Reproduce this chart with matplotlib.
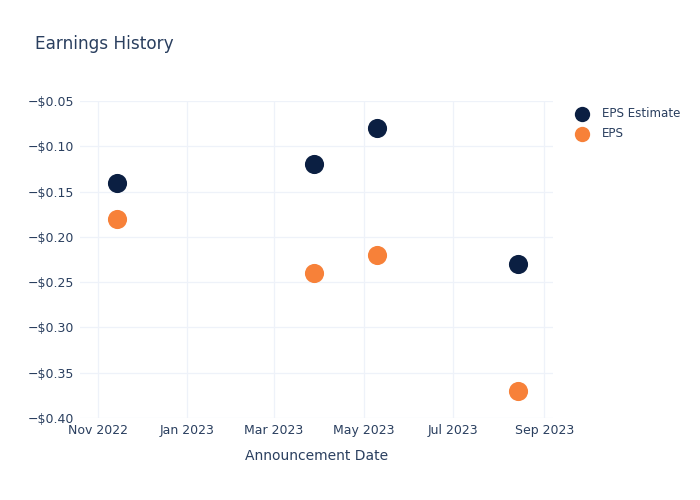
import matplotlib
matplotlib.use("Agg")
import matplotlib.pyplot as plt
import matplotlib.dates as mdates
import numpy as np
from datetime import datetime

dates = ["2022-11-14", "2023-03-28", "2023-05-10", "2023-08-14"]
eps_estimate = [-0.14, -0.12, -0.08, -0.23]
eps_actual = [-0.18, -0.24, -0.22, -0.37]

x = [datetime.strptime(d, "%Y-%m-%d") for d in dates]
text_color = "#2a3f5f"
grid_color = "#eef2f9"

fig = plt.figure(figsize=(7, 5), dpi=100)
ax = fig.add_axes([80 / 700, 82 / 500, 473 / 700, 317 / 500])

ax.scatter(x, eps_estimate, s=190, color="#0b1f42", zorder=3, label="EPS Estimate", linewidths=0)
ax.scatter(x, eps_actual, s=190, color="#f78139", zorder=3, label="EPS", linewidths=0)

ax.set_xlim(datetime(2022, 10, 20), datetime(2023, 9, 7))
ax.set_ylim(-0.40, -0.05)
ax.set_yticks(np.arange(-0.40, -0.049, 0.05))
ax.yaxis.set_major_formatter(plt.FuncFormatter(lambda v, p: "\u2212$%.2f" % abs(v)))
ax.xaxis.set_major_locator(mdates.MonthLocator(bymonth=[1, 3, 5, 7, 9, 11]))
ax.xaxis.set_major_formatter(mdates.DateFormatter("%b %Y"))

ax.grid(True, color=grid_color, linewidth=0.9)
ax.set_axisbelow(True)
for sp in ax.spines.values():
    sp.set_visible(False)
ax.tick_params(length=0, labelsize=9, labelcolor=text_color, pad=4)

ax.set_xlabel("Announcement Date", fontsize=10, color=text_color, labelpad=9)
fig.text(35 / 700, 1 - 44 / 500, "Earnings History", fontsize=12.2, color=text_color, va="center")

leg = ax.legend(loc="upper left", bbox_to_anchor=(1.027, 0.997), frameon=False,
                fontsize=8.6, labelcolor=text_color, handletextpad=0.6, borderaxespad=0,
                labelspacing=0.6, markerscale=0.8)

fig.savefig("out.png", dpi=100)
